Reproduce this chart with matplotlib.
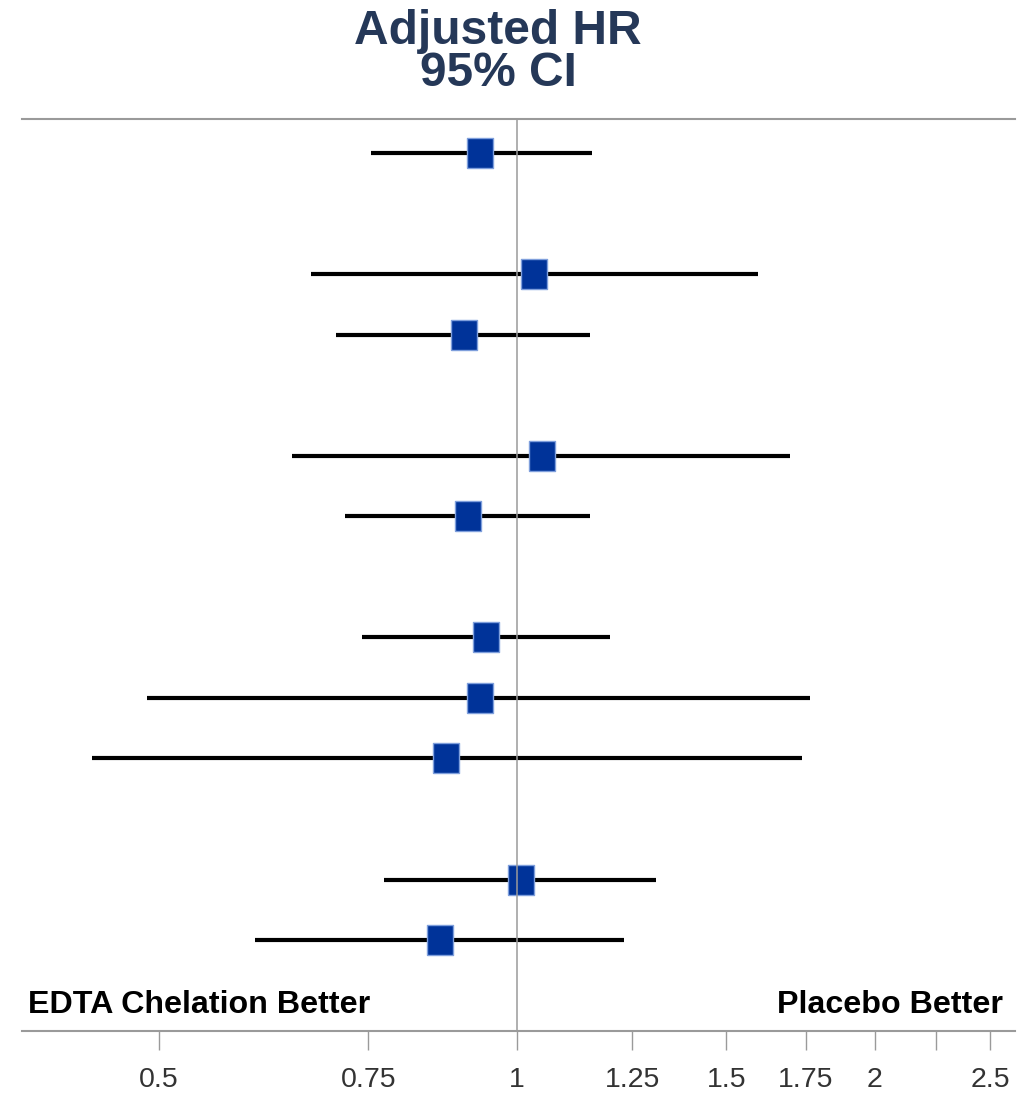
import matplotlib
matplotlib.use("Agg")
import matplotlib.pyplot as plt
from matplotlib.ticker import FixedLocator, FixedFormatter, NullLocator

# Data
rows = [0, 2, 3, 5, 6, 8, 9, 10, 12, 13]
hr = [0.931, 1.034, 0.903, 1.050, 0.909, 0.942, 0.931, 0.872, 1.007, 0.862]
lo = [0.754, 0.671, 0.704, 0.647, 0.717, 0.741, 0.489, 0.439, 0.773, 0.602]
hi = [1.156, 1.595, 1.152, 1.697, 1.152, 1.197, 1.764, 1.736, 1.309, 1.231]
tick_vals = [0.5, 0.75, 1, 1.25, 1.5, 1.75, 2, 2.25, 2.5]
tick_labels = ["0.5", "0.75", "1", "1.25", "1.5", "1.75", "2", "", "2.5"]

W, H = 1019, 1097
fig = plt.figure(figsize=(W / 100, H / 100), dpi=100)
ax = fig.add_axes([22 / W, 1 - 1031 / H, (1015 - 22) / W, (1031 - 119) / H])

ax.set_xscale("log")
ax.set_xlim(0.3836, 2.623)
ax.set_ylim(14.50, -0.56)

# CI lines
ax.hlines(rows, lo, hi, color="black", lw=3, zorder=2)
# HR markers (slightly taller than wide)
rect = [(-0.867, -1), (0.867, -1), (0.867, 1), (-0.867, 1), (-0.867, -1)]
ax.plot(hr, rows, linestyle="none", marker=rect, markersize=21,
        markerfacecolor="#003399", markeredgecolor="#7f9fdc", markeredgewidth=1,
        zorder=3)
# reference line at 1
ax.axvline(1, color="#9a9a9a", lw=1.1, zorder=4)

for s in ["left", "right"]:
    ax.spines[s].set_visible(False)
for s in ["top", "bottom"]:
    ax.spines[s].set_color("#9a9a9a")
    ax.spines[s].set_linewidth(1.5)

ax.xaxis.set_major_locator(FixedLocator(tick_vals))
ax.xaxis.set_major_formatter(FixedFormatter(tick_labels))
ax.xaxis.set_minor_locator(NullLocator())
ax.tick_params(axis="x", which="major", direction="out", length=14, width=1,
               color="#9a9a9a", pad=12, labelsize=20.5, labelcolor="#333333")
for lab in ax.get_xticklabels():
    lab.set_family("Liberation Sans")
ax.set_yticks([])

ax.text(28 / W, 1 - 1013 / H, "EDTA Chelation Better", transform=fig.transFigure,
        ha="left", va="baseline", fontsize=23.2, fontweight="bold",
        family="Liberation Sans", color="black")
ax.text(1003 / W, 1 - 1013 / H, "Placebo Better", transform=fig.transFigure,
        ha="right", va="baseline", fontsize=23.2, fontweight="bold",
        family="Liberation Sans", color="black")

fig.text(498 / W, 1 - 44 / H, "Adjusted HR", ha="center", va="baseline",
         fontsize=34.5, fontweight="bold", family="Liberation Sans", color="#253858")
fig.text(498 / W, 1 - 86 / H, "95% CI", ha="center", va="baseline",
         fontsize=34.5, fontweight="bold", family="Liberation Sans", color="#253858")

fig.savefig("out.png", dpi=100)
